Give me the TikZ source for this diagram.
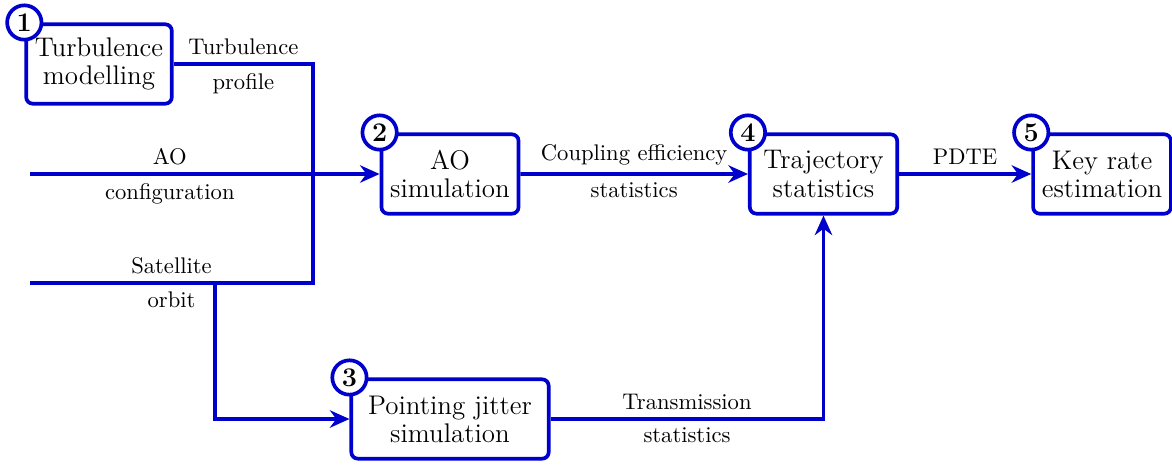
\documentclass[tikz,border=0pt]{standalone}
\usetikzlibrary{arrows.meta}
\definecolor{flowblue}{RGB}{0,0,205}
\tikzset{
  block/.style={draw=flowblue, line width=1.7pt, rounded corners=3pt, fill=white,
    align=center, minimum height=36.5pt, inner xsep=4pt,
    font=\fontsize{12.4}{12.9}\selectfont},
  numcircle/.style={circle, draw=flowblue, line width=1.7pt, fill=white,
    minimum size=15.8pt, inner sep=0pt, font=\fontsize{12.4}{13}\selectfont\bfseries},
  flow/.style={draw=flowblue, line width=1.7pt},
  arrow/.style={flow, -{Stealth[length=9pt, width=8pt]}}
}
\begin{document}
\begin{tikzpicture}[
  scale=0.1617,
  font=\fontsize{10.4}{12.5}\selectfont
]
\useasboundingbox (0,0) rectangle (117.2,46.4);

% blocks
\node [block] (turb) at (9.9,40.0) {Turbulence\\modelling};
\node [block] (aosim) at (45.0,29.0) {AO\\simulation};
\node [block, minimum width=67.8pt] (traj) at (82.35,29.0) {Trajectory\\statistics};
\node [block] (keyrate) at (110.2,29.0) {Key rate\\estimation};
\node [block, minimum width=90.8pt] (jitter) at (45.0,4.5) {Pointing jitter\\simulation};

% inputs
\coordinate (aoin) at (3.0,29.0);
\coordinate (satin) at (3.0,18.1);
\coordinate (join) at (31.3,18.1);
\coordinate (fork) at (21.5,18.1);

% connectors
\draw [flow] (satin) -- node [above] {Satellite} node [below] {orbit} (join)
  |- node [pos=0.75, above] {Turbulence} node [pos=0.75, below] {profile} (turb.east);
\draw [arrow] (aoin) -- node [pos=0.4, above] {AO} node [pos=0.4, below] {configuration} (aosim.west);
\draw [arrow] (fork) |- (jitter.west);
\draw [arrow] (aosim) -- node [above] {Coupling efficiency} node [below] {statistics} (traj);
\draw [arrow] (traj) -- node [above] {PDTE} (keyrate);
\draw [arrow] (jitter) -| node [pos=0.25, above] {Transmission} node [pos=0.25, below] {statistics} (traj);

% step numbers
\node [numcircle] (n1) at (turb.north west) {1};
\node [numcircle] (n2) at (aosim.north west) {2};
\node [numcircle] (n3) at (jitter.north west) {3};
\node [numcircle] (n4) at (traj.north west) {4};
\node [numcircle] (n5) at (keyrate.north west) {5};
\end{tikzpicture}
\end{document}
